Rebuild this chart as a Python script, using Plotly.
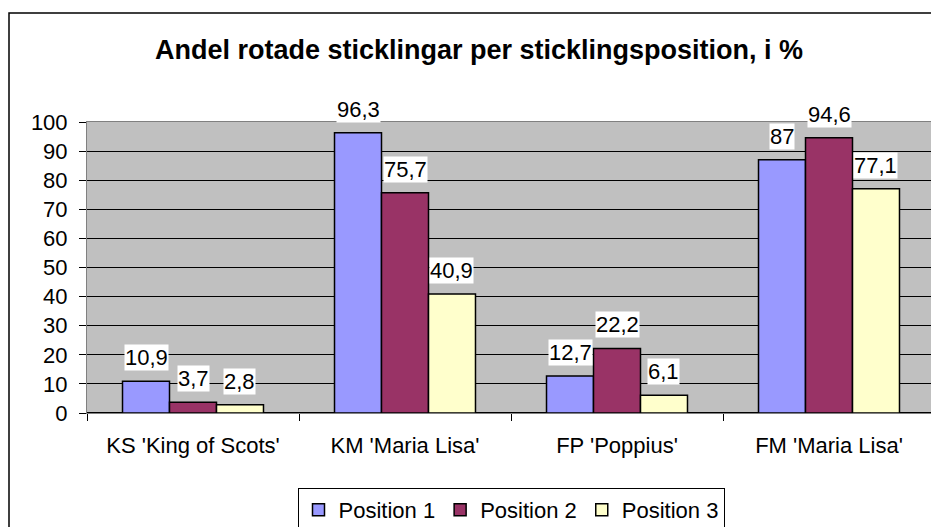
"""Andel rotade sticklingar - Excel-style grouped bar chart."""

import plotly.graph_objects as go

categories = ["KS 'King of Scots'", "KM 'Maria Lisa'", "FP 'Poppius'", "FM 'Maria Lisa'"]
series_names = ["Position 1", "Position 2", "Position 3"]
position_1 = [10.9, 96.3, 12.7, 87]
position_2 = [3.7, 75.7, 22.2, 94.6]
position_3 = [2.8, 40.9, 6.1, 77.1]
colors = ["#9999FF", "#993366", "#FFFFCC"]
y_ticks = list(range(0, 101, 10))

FONT = "Liberation Sans, Arial, sans-serif"
# the page body has an 8px margin, so the figure is sized to fit the window
W, H = 931, 519
M_L, M_R, M_T, M_B = 79, 4, 114, 114
BARGAP = 0.335
plot_w = W - M_L - M_R
plot_h = H - M_T - M_B

fig = go.Figure()
for name, vals, col in zip(series_names, [position_1, position_2, position_3], colors):
    fig.add_trace(go.Bar(
        x=categories, y=vals, name=name,
        marker=dict(color=col, line=dict(color="black", width=1.5)),
    ))

# data labels with white box, placed over each bar
cat_w = plot_w / len(categories)
bar_w = cat_w * (1 - BARGAP) / len(series_names)
for i, vals in enumerate([position_1, position_2, position_3]):
    for cat, v in zip(categories, vals):
        fig.add_annotation(
            x=cat, y=v, text=f"{v:g}".replace(".", ","),
            showarrow=False, yanchor="bottom", xanchor="center",
            xshift=(i - 1) * bar_w, yshift=10,
            bgcolor="white", borderpad=0,
            font=dict(size=22, color="black", family=FONT),
        )

# outer chart border (runs off the right and bottom edge like the source)
fig.add_shape(
    type="rect", xref="paper", yref="paper",
    x0=(1 - M_L) / plot_w, x1=1.2,
    y0=-0.6, y1=(H - M_B - 5) / plot_h,
    line=dict(color="black", width=1.5), layer="below",
)

fig.update_layout(
    width=W, height=H,
    margin=dict(l=M_L, r=M_R, t=M_T, b=M_B, autoexpand=False),
    paper_bgcolor="white", plot_bgcolor="#C0C0C0",
    barmode="group", bargap=BARGAP, bargroupgap=0,
    font=dict(family=FONT, size=22, color="black"),
    title=dict(
        text="<b>Andel rotade sticklingar per sticklingsposition, i %</b>",
        x=471 / W, xanchor="center", y=1 - 42 / H, yanchor="middle",
        font=dict(size=27, family=FONT, color="black"),
    ),
    showlegend=True,
    legend=dict(
        orientation="h", x=0.5, xanchor="center",
        y=-(480 - (H - M_B)) / plot_h, yanchor="top",
        bordercolor="black", borderwidth=1, bgcolor="white",
        font=dict(size=22, family=FONT), itemwidth=30, traceorder="normal",
    ),
    xaxis=dict(
        type="category", showgrid=False, ticks="outside", tickson="boundaries",
        ticklen=7, tickcolor="black", linecolor="#808080", mirror=True,
        showline=True, tickfont=dict(size=22), ticklabelstandoff=13,
        automargin=False,
    ),
    yaxis=dict(
        range=[0, 100], tickvals=y_ticks, showgrid=True, gridcolor="black",
        gridwidth=1, zeroline=True, zerolinecolor="black", zerolinewidth=1.5,
        ticks="outside", ticklen=7, tickcolor="black", showline=True,
        linecolor="#808080", mirror=True, tickfont=dict(size=22),
        ticklabelstandoff=7, automargin=False,
    ),
)

fig.write_html("out.html")
